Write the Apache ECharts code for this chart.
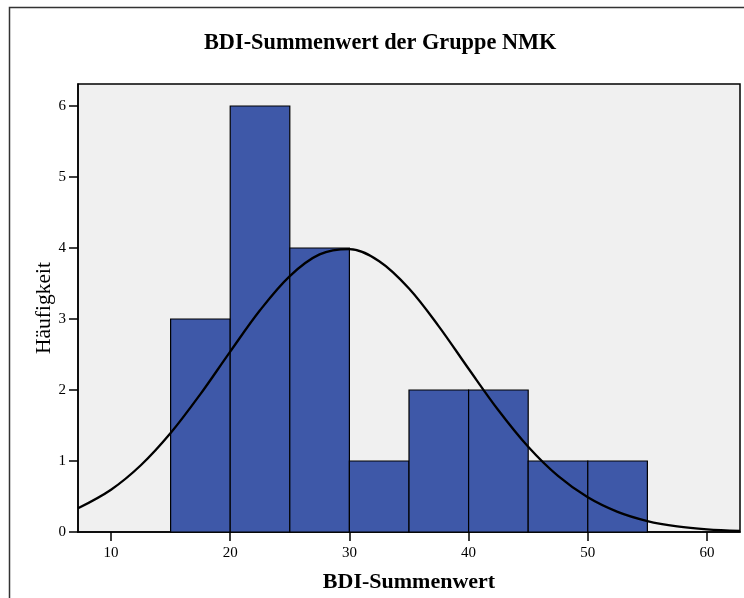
<!DOCTYPE html>
<html>
<head>
<meta charset="utf-8">
<script src="https://cdn.jsdelivr.net/npm/echarts@6/dist/echarts.min.js"></script>
<style>
  html, body { margin: 0; padding: 0; background: #fff; }
  #chart { width: 744px; height: 598px; }
</style>
</head>
<body>
<div id="chart"></div>
<script>
// Histogram bins (lower and upper edge) and their counts
const binStart = [15, 20, 25, 30, 35, 40, 45, 50];
const binEnd   = [20, 25, 30, 35, 40, 45, 50, 55];
const counts   = [3, 6, 4, 1, 2, 2, 1, 1];

// Fitted normal curve, sampled along the x range
const curveX = [7.23, 10, 12.5, 15, 17.5, 20, 22.5, 25, 27.5, 30, 32.5, 35, 37.5, 40, 42.5, 45, 47.5, 50, 52.5, 55, 57.5, 60, 62.77];
const curveY = [0.334, 0.596, 0.940, 1.394, 1.942, 2.541, 3.123, 3.605, 3.910, 3.984, 3.814, 3.430, 2.897, 2.299, 1.714, 1.200, 0.789, 0.488, 0.283, 0.154, 0.079, 0.038, 0.016];

// Axis ticks
const xTicks = [10, 20, 30, 40, 50, 60];
const yTicks = [0, 1, 2, 3, 4, 5, 6];

const FONT = "'Liberation Serif', 'Times New Roman', serif";

const barData = binStart.map((s, i) => [s, binEnd[i], counts[i]]);
const lineData = curveX.map((x, i) => [x, curveY[i]]);

const chart = echarts.init(document.getElementById('chart'), null, { renderer: 'canvas' });

chart.setOption({
  animation: false,
  backgroundColor: '#ffffff',
  title: {
    text: 'BDI-Summenwert der Gruppe NMK',
    left: 204,
    top: 32,
    padding: 0,
    textStyle: { fontFamily: FONT, fontSize: 22.3, fontWeight: 'bold', color: '#000' }
  },
  graphic: [{
    type: 'rect',
    shape: { x: 9.5, y: 7.5, width: 800, height: 700 },
    style: { fill: 'none', stroke: '#333', lineWidth: 1.5 },
    silent: true,
    z: 100
  }],
  grid: {
    left: 78, right: 4, top: 84, bottom: 65,
    show: true,
    backgroundColor: '#f0f0f0',
    borderColor: '#000',
    borderWidth: 1.5
  },
  xAxis: {
    type: 'value',
    min: 7.23,
    max: 62.77,
    name: 'BDI-Summenwert',
    nameLocation: 'middle',
    nameGap: 39,
    nameMoveOverlap: false,
    nameTextStyle: { fontFamily: FONT, fontSize: 22, fontWeight: 'bold', color: '#000' },
    axisLine: { show: true, onZero: false, lineStyle: { color: '#000', width: 1.5 } },
    axisTick: { show: true, length: 9, customValues: xTicks, lineStyle: { color: '#000', width: 1.5 } },
    axisLabel: { customValues: xTicks, margin: 14, fontFamily: FONT, fontSize: 15, color: '#000' },
    splitLine: { show: false }
  },
  yAxis: {
    type: 'value',
    min: 0,
    max: 6.31,
    name: 'Häufigkeit',
    nameLocation: 'middle',
    nameGap: 23,
    nameMoveOverlap: false,
    nameTextStyle: { fontFamily: FONT, fontSize: 21.5, color: '#000' },
    axisLine: { show: true, lineStyle: { color: '#000', width: 1.5 } },
    axisTick: { show: true, length: 9, customValues: yTicks, lineStyle: { color: '#000', width: 1.5 } },
    axisLabel: { customValues: yTicks, margin: 12, fontFamily: FONT, fontSize: 15, color: '#000' },
    splitLine: { show: false }
  },
  series: [
    {
      type: 'custom',
      data: barData,
      encode: { x: [0, 1], y: 2 },
      renderItem: function (params, api) {
        const p0 = api.coord([api.value(0), api.value(2)]);
        const p1 = api.coord([api.value(1), 0]);
        return {
          type: 'rect',
          shape: { x: p0[0], y: p0[1], width: p1[0] - p0[0], height: p1[1] - p0[1] },
          style: { fill: '#3e58a8', stroke: '#000', lineWidth: 1.2 }
        };
      },
      z: 2
    },
    {
      type: 'line',
      data: lineData,
      smooth: 0.35,
      showSymbol: false,
      lineStyle: { color: '#000', width: 2.3 },
      z: 3
    }
  ]
});
</script>
</body>
</html>
